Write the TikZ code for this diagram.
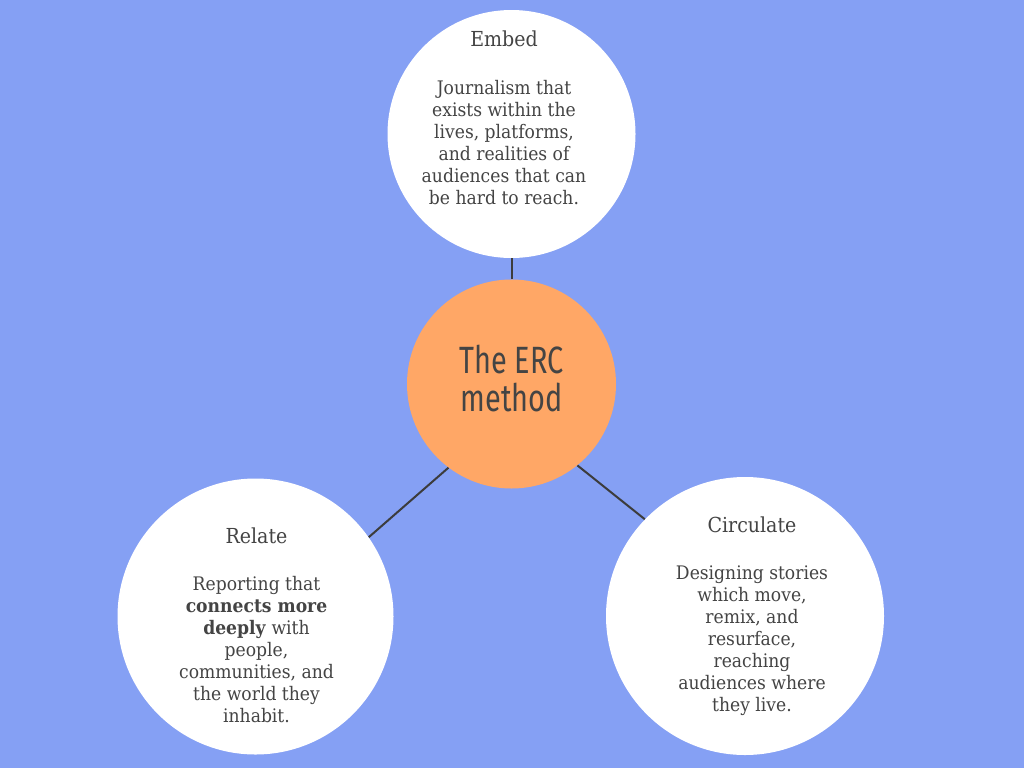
\documentclass[tikz,border=0pt]{standalone}
\usepackage{fontspec}
\setmainfont{DejaVu Serif}[FakeStretch=0.92]
\newfontfamily\headfont{Fira Sans}[FakeStretch=0.76]
\usepackage{xcolor}
\usepackage{tikz}
\usetikzlibrary{positioning}
\definecolor{Sky}{HTML}{85A0F4}
\definecolor{Peach}{HTML}{FFA766}
\definecolor{Ink}{HTML}{444444}
\definecolor{Rule}{HTML}{3C3C3C}

\begin{document}
\begin{tikzpicture}[
  x=0.75pt, y=-0.75pt,
  bubble/.style={circle, fill=white, inner sep=0pt},
  core/.style={circle, fill=Peach, inner sep=0pt, minimum size=156.75pt, align=center, text=Ink, text depth=8pt, font=\headfont\fontsize{28.5}{28.5}\selectfont},
  title/.style={anchor=base, inner sep=0pt, text=Ink, font=\fontsize{15.5}{18}\selectfont},
  blurb/.style={anchor=north, inner sep=0pt, align=center, text=Ink, font=\fontsize{14}{16.5}\selectfont},
  link/.style={draw=Rule, line width=1.5pt}
]
\fill[Sky] (0,0) rectangle (1024,768);
\useasboundingbox (0,0) rectangle (1024,768);

\node[bubble, minimum size=186pt] (embed) at (511.5,134) {};
\node[core] (erc) at (511.5,384) {The ERC\\method};
\node[bubble, minimum size=207pt] (relate) at (255.5,616.5) {};
\node[bubble, minimum size=208.5pt] (circulate) at (745,616) {};

\draw[link] (erc.north) -- (embed.south);
\draw[link] (erc.233) -- (relate.35.8);
\draw[link] (erc.309.4) -- (circulate.136.4);

\node[title] (embedT) at (504,46.7) {Embed};
\node[blurb] (embedB) at (504,80.5) {Journalism that\\exists within the\\lives, platforms,\\and realities of\\audiences that can\\be hard to reach.};
\node[title] (relateT) at (256.5,543) {Relate};
\node[blurb] (relateB) at (256.5,576.5) {Reporting that\\\textbf{connects more}\\\textbf{deeply} with\\people,\\communities, and\\the world they\\inhabit.};
\node[title] (circulateT) at (752,532) {Circulate};
\node[blurb] (circulateB) at (752,565.5) {Designing stories\\which move,\\remix, and\\resurface,\\reaching\\audiences where\\they live.};
\end{tikzpicture}
\end{document}
